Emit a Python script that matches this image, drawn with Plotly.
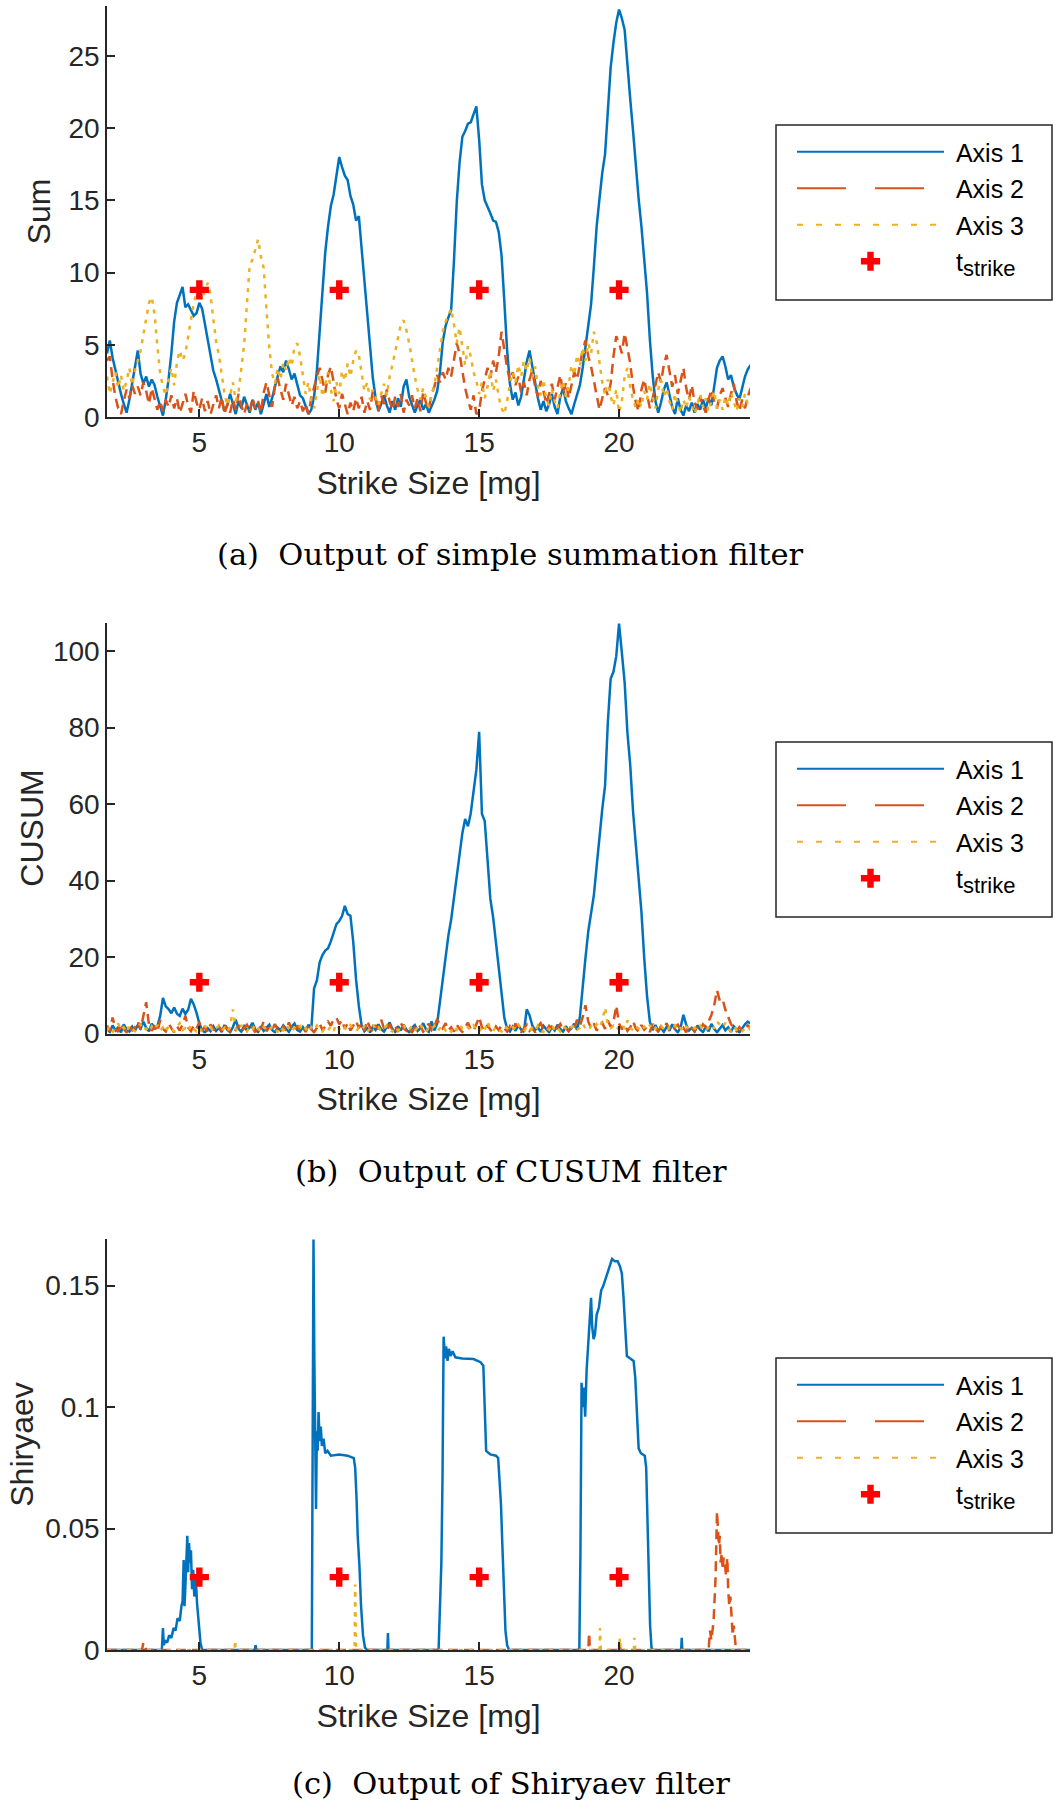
import plotly.graph_objects as go
from plotly.subplots import make_subplots

# sampled series start at 1.7 mg with 0.1 mg spacing
X_START = 1.7
X_STEP = 0.1

#---------------------------------------------------
# (a) simple summation filter
sum_axis1 = [
    4.4, 5.3, 4.1, 3.2, 2.4, 1.6, 0.9, 0.3, 1.2, 2.3,
    3.4, 4.6, 3.0, 2.3, 2.8, 2.1, 2.6, 2.2, 1.4, 0.7,
    0.1, 1.2, 2.6, 4.4, 6.6, 7.9, 8.4, 9.0, 7.6, 7.8,
    7.4, 7.0, 7.2, 7.9, 7.5, 6.4, 5.2, 4.1, 3.2, 2.6,
    1.9, 1.2, 0.4, 0.8, 1.6, 0.9, 0.2, 1.1, 0.6, 1.4,
    0.8, 0.3, 1.2, 0.5, 1.0, 0.2, 0.9, 1.6, 0.7, 1.3,
    2.1, 2.8, 3.5, 3.1, 3.9, 3.3, 2.6, 3.0, 2.2, 1.5,
    1.3, 0.7, 0.2, 0.5, 1.4, 3.2, 6.1, 8.8, 11.4, 13.2,
    14.6, 15.4, 16.9, 18.0, 17.3, 16.7, 16.4, 15.3, 14.7, 13.6,
    13.9, 11.6, 9.4, 6.9, 4.6, 2.7, 1.3, 0.4, 0.9, 1.5,
    0.8, 0.3, 1.1, 0.5, 1.3, 0.7, 2.1, 2.6, 1.4, 0.9,
    0.3, 0.8, 1.2, 0.5, 0.9, 0.3, 0.7, 1.2, 1.8, 3.1,
    5.2, 6.3, 6.9, 7.4, 10.8, 14.9, 17.6, 19.4, 19.8, 20.3,
    20.4, 20.9, 21.5, 19.2, 16.1, 15.0, 14.6, 14.1, 13.6, 13.5,
    12.8, 11.2, 8.0, 4.6, 2.3, 1.2, 1.7, 0.8, 1.4, 2.6,
    3.8, 4.6, 3.4, 2.2, 1.3, 0.5, 1.1, 0.4, 0.9, 1.6,
    0.7, 0.2, 1.4, 2.0, 1.1, 0.6, 0.2, 0.9, 1.5, 2.2,
    3.4, 5.0, 6.6, 7.8, 10.4, 13.2, 15.1, 16.9, 18.2, 21.3,
    24.2, 25.9, 27.3, 28.2, 27.6, 26.8, 24.1, 22.0, 19.8, 17.2,
    15.1, 13.2, 11.0, 8.6, 5.4, 2.9, 1.1, 0.3, 1.0, 1.9,
    2.4, 1.6, 0.7, 0.2, 1.3, 0.5, 0.1, 0.8, 0.4, 1.0,
    0.3, 0.9, 0.5, 1.2, 0.6, 1.3, 0.8, 2.1, 3.4, 3.9,
    4.2, 3.5, 2.6, 2.9, 2.1, 1.6, 1.2, 2.0, 2.8, 3.3,
    3.6,
]
sum_axis2 = [
    3.9, 4.2, 2.6, 1.4, 0.6, 0.2, 1.1, 1.9, 1.3, 2.2,
    1.6, 2.1, 1.5, 2.4, 1.8, 0.9, 2.0, 1.2, 0.5, 1.1,
    0.4, 1.2, 0.7, 1.5, 0.6, 1.3, 0.3, 0.9, 1.6, 0.8,
    0.3, 1.8, 1.0, 0.5, 1.3, 0.4, 1.1, 0.2, 0.8, 1.5,
    0.6, 1.4, 0.2, 0.9, 0.3, 1.2, 0.5, 1.6, 0.8, 0.2,
    0.9, 0.4, 1.3, 0.6, 1.1, 0.3, 1.7, 2.4, 1.5, 0.7,
    2.1, 2.7, 1.9, 1.2, 2.3, 1.6, 0.8, 1.4, 0.6, 1.1,
    0.4, 0.9, 0.2, 1.3, 2.1, 2.8, 3.4, 2.6, 1.7, 2.9,
    3.5, 2.4, 1.2, 0.6, 1.6, 0.9, 0.2, 1.0, 0.4, 1.3,
    0.6, 1.4, 0.3, 1.1, 0.5, 1.8, 1.2, 0.4, 1.5, 0.9,
    1.9, 1.1, 0.5, 1.4, 0.7, 1.6, 0.3, 1.2, 0.8, 1.5,
    0.6, 1.3, 0.4, 1.7, 1.0, 0.5, 1.6, 2.1, 2.9, 2.4,
    3.1, 2.6, 3.4, 2.8, 4.1, 5.1, 4.4, 3.2, 2.0, 1.2,
    0.5, 1.5, 0.2, 0.4, 1.8, 2.6, 3.4, 2.7, 3.9, 3.1,
    4.2, 5.9, 4.6, 3.4, 2.5, 3.1, 2.2, 2.8, 1.7, 2.4,
    1.5, 2.6, 3.2, 2.1, 1.4, 2.5, 1.8, 0.9, 1.6, 2.3,
    1.2, 2.0, 2.9, 1.6, 2.4, 1.3, 2.2, 3.1, 2.6, 3.7,
    4.6, 5.3, 4.2, 3.5, 2.4, 1.6, 0.5, 1.3, 2.0, 1.5,
    2.3, 4.2, 5.6, 5.1, 4.4, 5.8, 4.6, 3.7, 2.1, 1.0,
    0.4, 1.9, 2.6, 1.5, 0.6, 1.3, 2.2, 3.1, 2.4, 3.6,
    4.3, 3.2, 2.1, 2.9, 1.6, 2.5, 3.4, 2.0, 1.2, 2.2,
    1.0, 0.5, 1.4, 0.8, 0.3, 1.2, 1.9, 1.1, 0.6, 1.5,
    2.0, 1.3, 0.7, 1.6, 2.3, 1.1, 0.4, 1.2, 0.6, 1.4,
    2.0,
]
sum_axis3 = [
    2.8, 1.6, 2.4, 3.1, 2.0, 2.9, 1.8, 2.5, 3.4, 2.2,
    3.2, 3.9, 4.6, 5.7, 6.8, 7.9, 8.3, 7.1, 4.9, 3.0,
    2.1, 1.5, 2.6, 3.4, 2.2, 3.8, 4.6, 3.9, 4.4, 5.6,
    6.8, 7.9, 8.6, 8.9, 8.1, 8.7, 9.3, 8.4, 6.9, 5.2,
    4.3, 3.1, 1.6, 0.8, 1.5, 2.4, 1.1, 1.7, 3.2, 5.0,
    7.8, 10.5, 10.9, 11.6, 12.3, 11.1, 10.3, 7.4, 4.8, 3.0,
    2.3, 3.4, 2.6, 3.8, 3.2, 4.1, 3.5, 4.9, 5.1, 4.2,
    2.8, 1.6, 2.4, 1.1, 0.6, 1.8, 2.9, 1.4, 2.2, 3.1,
    1.9, 1.1, 2.4, 1.6, 3.2, 2.5, 3.7, 2.8, 3.9, 4.6,
    4.3, 3.1, 1.8, 2.4, 1.2, 1.9, 1.4, 0.8, 1.6, 2.3,
    1.5, 2.8, 3.6, 4.5, 5.5, 6.4, 6.7, 6.0, 5.1, 3.9,
    2.8, 1.9, 1.2, 2.0, 1.4, 0.7, 1.5, 2.2, 3.4, 4.8,
    5.9, 6.6, 7.1, 7.5, 6.4, 5.1, 6.2, 4.8, 3.6, 4.9,
    4.2, 3.1, 2.5, 1.6, 2.4, 1.3, 2.1, 3.2, 1.8, 2.6,
    1.4, 0.6, 0.2, 1.1, 2.3, 3.1, 2.4, 3.6, 2.8, 3.9,
    3.2, 4.1, 2.7, 3.5, 2.1, 1.5, 2.6, 1.2, 0.8, 1.9,
    1.1, 0.6, 1.7, 2.5, 1.4, 2.2, 3.6, 2.9, 4.3, 3.5,
    4.8, 3.9, 5.1, 4.4, 5.9, 5.2, 3.6, 2.4, 1.5, 2.6,
    1.4, 0.8, 1.9, 0.3, 1.1, 2.8, 3.4, 2.1, 1.2, 0.6,
    1.3, 0.7, 1.8, 1.2, 2.3, 1.5, 0.6, 1.9, 2.6, 1.4,
    2.0, 1.1, 0.5, 1.6, 0.9, 0.3, 1.2, 0.6, 1.4, 0.8,
    0.2, 0.9, 1.6, 0.7, 1.3, 0.4, 1.1, 1.8, 0.6, 1.2,
    0.5, 1.4, 0.8, 1.7, 1.1, 0.4, 1.3, 0.7, 1.6, 0.9,
    1.2,
]

#---------------------------------------------------
# (b) CUSUM filter
cusum_axis1 = [
    1.2, 0.4, 2.1, 0.8, 1.6, 0.3, 2.4, 1.1, 0.5, 1.8,
    0.7, 2.2, 1.3, 3.1, 1.5, 0.6, 2.6, 1.4, 1.9, 4.6,
    9.3, 7.1, 6.4, 5.3, 6.8, 5.2, 4.6, 6.5, 5.1, 6.2,
    9.1, 7.6, 5.4, 2.6, 0.8, 0.3, 1.4, 0.6, 1.9, 0.7,
    1.5, 0.4, 2.2, 1.0, 0.3, 1.7, 3.6, 1.2, 0.5, 1.9,
    0.8, 1.6, 2.8, 1.1, 0.4, 1.9, 0.7, 1.4, 2.3, 0.9,
    0.3, 1.5, 0.8, 2.1, 1.2, 0.4, 1.8, 2.6, 0.9, 0.5,
    1.7, 0.6, 2.3, 1.0, 11.8, 13.9, 18.6, 20.5, 21.7, 22.3,
    24.1, 26.3, 28.6, 29.4, 30.7, 33.4, 31.2, 30.8, 24.0, 14.2,
    7.2, 2.1, 0.6, 1.4, 0.3, 1.8, 0.9, 2.4, 1.1, 0.5,
    1.6, 2.9, 1.2, 0.4, 1.9, 0.8, 2.3, 1.0, 0.3, 1.5,
    2.2, 0.7, 1.4, 2.7, 1.1, 0.4, 3.2, 0.8, 2.6, 8.4,
    14.2, 21.3, 25.6, 29.8, 35.4, 40.3, 46.8, 52.4, 56.1, 54.2,
    57.6, 63.1, 69.0, 78.9, 57.4, 55.6, 44.0, 35.2, 30.4, 24.1,
    18.2, 10.9, 4.1, 1.2, 0.5, 1.8, 0.7, 2.2, 1.0, 0.4,
    6.3, 4.8, 2.1, 0.9, 1.6, 0.4, 2.0, 1.1, 0.3, 1.7,
    0.8, 2.3, 1.2, 0.5, 1.9, 0.7, 1.4, 2.6, 1.0, 4.3,
    13.2, 19.8, 26.7, 31.9, 36.2, 43.8, 51.9, 58.7, 64.8, 81.5,
    92.8, 94.6, 98.7, 107.2, 99.6, 91.8, 78.6, 70.2, 58.1, 49.7,
    40.6, 31.8, 19.7, 9.8, 3.1, 0.9, 2.2, 0.6, 1.5, 0.4,
    1.8, 0.7, 2.4, 1.1, 0.3, 1.6, 4.9, 2.3, 0.8, 1.5,
    0.5, 2.1, 1.0, 0.4, 1.7, 0.6, 2.5, 1.2, 0.3, 1.4,
    2.2, 0.8, 1.6, 0.4, 1.9, 1.0, 0.3, 1.3, 2.4, 3.1,
    2.6,
]
cusum_axis2 = [
    2.1, 0.6, 4.2, 1.3, 0.4, 2.7, 1.1, 0.3, 1.9, 0.8,
    1.5, 3.2, 1.0, 4.6, 8.2, 2.3, 0.7, 1.8, 0.4, 3.5,
    1.2, 0.5, 2.6, 1.4, 0.3, 1.9, 0.8, 2.3, 4.6, 1.5,
    0.6, 2.1, 1.2, 3.0, 0.8, 1.7, 0.4, 2.4, 1.1, 0.5,
    1.8, 0.7, 2.6, 1.3, 0.4, 1.6, 0.9, 2.2, 0.5, 1.4,
    2.3, 0.8, 1.5, 0.3, 2.0, 1.1, 3.2, 0.6, 1.7, 0.9,
    2.5, 1.0, 0.4, 1.8, 0.7, 2.9, 1.3, 0.5, 2.1, 0.8,
    1.6, 0.4, 2.2, 1.1, 0.3, 1.5, 2.6, 0.9, 1.8, 3.1,
    2.0, 3.8, 4.1, 2.4, 3.5, 1.2, 2.7, 0.8, 1.9, 3.3,
    1.4, 2.6, 0.7, 3.4, 1.5, 0.5, 2.2, 1.1, 3.6, 1.3,
    0.6, 2.4, 1.0, 1.9, 0.4, 2.8, 1.3, 0.7, 1.6, 0.3,
    1.5, 0.8, 2.0, 0.5, 1.4, 2.6, 0.9, 1.8, 3.8, 2.2,
    1.3, 2.7, 0.8, 1.6, 0.5, 2.3, 1.2, 0.4, 1.7, 2.8,
    1.1, 0.6, 2.4, 4.3, 1.6, 0.7, 2.2, 1.0, 0.4, 1.8,
    0.9, 2.1, 1.3, 0.5, 1.9, 0.8, 2.6, 1.2, 0.4, 1.5,
    2.3, 0.7, 1.4, 0.3, 1.8, 2.7, 1.0, 0.5, 2.0, 1.2,
    0.4, 1.6, 2.5, 0.9, 1.3, 0.6, 2.1, 1.4, 3.6, 2.0,
    4.2, 7.4, 3.1, 1.5, 2.6, 0.8, 1.9, 2.8, 1.2, 3.4,
    1.8, 2.9, 7.3, 2.6, 1.1, 2.4, 0.7, 1.6, 3.2, 1.3,
    0.5, 2.2, 1.0, 1.8, 0.4, 2.5, 1.1, 0.6, 1.9, 1.3,
    2.7, 1.0, 0.4, 1.7, 2.3, 0.8, 1.5, 0.3, 2.0, 1.2,
    0.6, 1.9, 1.1, 2.4, 1.6, 3.2, 4.8, 7.4, 11.3, 8.6,
    9.0, 6.2, 4.1, 2.5, 1.2, 0.6, 1.7, 0.8, 1.4, 2.1,
    1.5,
]
cusum_axis3 = [
    0.8, 1.9, 0.5, 1.4, 2.6, 0.9, 1.6, 0.3, 2.1, 1.2,
    0.6, 1.7, 2.4, 0.8, 1.3, 0.4, 1.9, 1.0, 2.2, 0.7,
    1.5, 0.4, 2.0, 1.1, 0.6, 1.8, 2.7, 0.9, 1.4, 0.5,
    2.3, 1.2, 0.6, 1.6, 0.3, 2.0, 1.0, 1.7, 0.5, 1.3,
    2.1, 0.8, 1.5, 0.4, 1.8, 6.3, 1.2, 0.6, 2.2, 1.0,
    0.5, 1.6, 0.9, 2.4, 1.3, 0.4, 1.7, 1.0, 0.6, 2.0,
    1.1, 0.5, 1.8, 0.9, 2.3, 1.2, 0.4, 1.5, 0.8, 1.9,
    0.6, 1.4, 0.3, 1.7, 0.9, 2.1, 1.0, 0.5, 1.6, 0.8,
    1.9, 0.7, 2.4, 1.2, 0.5, 1.6, 0.9, 2.2, 1.3, 0.6,
    1.5, 0.8, 2.0, 0.4, 1.3, 2.5, 0.9, 1.6, 0.5, 1.2,
    2.1, 1.0, 0.5, 1.7, 0.8, 1.4, 2.3, 0.6, 1.1, 1.9,
    0.7, 1.5, 2.6, 0.9, 0.4, 1.6, 1.1, 2.0, 0.6, 1.4,
    2.2, 0.8, 1.5, 0.5, 1.9, 1.0, 2.4, 1.3, 0.7, 1.6,
    0.9, 2.1, 1.2, 0.4, 1.7, 0.8, 3.1, 1.3, 0.6, 1.8,
    1.1, 0.5, 2.0, 1.4, 0.7, 1.6, 0.9, 2.3, 1.2, 0.5,
    1.8, 0.9, 1.4, 0.6, 2.1, 1.1, 0.4, 1.7, 1.0, 2.4,
    0.8, 1.5, 0.5, 1.9, 1.2, 0.7, 1.6, 2.2, 1.0, 1.4,
    2.6, 1.3, 0.8, 1.9, 1.1, 2.4, 1.5, 3.2, 6.8, 2.1,
    1.4, 2.0, 0.9, 1.7, 2.6, 1.2, 3.4, 1.5, 0.8, 1.9,
    1.3, 0.6, 1.8, 1.0, 2.2, 0.7, 1.5, 0.9, 1.9, 1.1,
    0.5, 1.6, 1.0, 2.1, 0.8, 1.4, 0.6, 1.8, 1.2, 0.7,
    1.5, 0.9, 2.0, 1.1, 0.6, 1.7, 2.4, 1.3, 3.1, 2.2,
    1.6, 2.8, 1.2, 0.7, 1.9, 1.0, 1.5, 0.6, 1.3, 2.0,
    0.9,
]

#---------------------------------------------------
# (c) Shiryaev filter, read as (strike size, value) points
shir_x_axis1 = [
    1.7, 3.66, 3.7, 3.73, 3.78, 3.85, 3.92, 4.0, 4.08, 4.15, 4.22, 4.3, 4.36, 4.4,
    4.44, 4.47, 4.5, 4.54, 4.57, 4.6, 4.63, 4.67, 4.7, 4.74, 4.78, 4.82, 4.87, 4.92,
    4.98, 5.04, 5.1, 6.98, 7.01, 7.04,
    9.02, 9.05, 9.08, 9.11, 9.14, 9.17, 9.2, 9.23, 9.26, 9.3, 9.34, 9.38, 9.44, 9.5,
    9.58, 9.7, 10.0, 10.3, 10.52, 10.57, 10.62, 10.66, 10.72, 10.78, 10.85, 10.92, 11.0,
    11.72, 11.74, 11.76,
    13.55, 13.6, 13.65, 13.69, 13.73, 13.78, 13.82, 13.87, 13.92, 13.98, 14.05, 14.15,
    14.4, 14.8, 15.05, 15.15, 15.2, 15.25, 15.4, 15.6, 15.68, 15.73, 15.78, 15.83,
    15.88, 15.94, 16.0, 16.07,
    18.58, 18.62, 18.66, 18.7, 18.74, 18.79, 18.84, 18.9, 18.95, 19.0, 19.04, 19.09,
    19.14, 19.2, 19.28, 19.36, 19.44, 19.52, 19.6, 19.68, 19.75, 19.85, 19.95, 20.03,
    20.1, 20.16, 20.22, 20.28, 20.4, 20.52, 20.58, 20.64, 20.7, 20.78, 20.92, 20.97,
    21.02, 21.07, 21.11, 21.16, 21.2,
    22.22, 22.24, 22.26, 24.7,
]
shir_y_axis1 = [
    0, 0, 0.009, 0.002, 0.004, 0.003, 0.006, 0.005, 0.009, 0.008, 0.013, 0.012, 0.018, 0.02,
    0.037, 0.018, 0.026, 0.043, 0.047, 0.032, 0.044, 0.036, 0.041, 0.025, 0.033, 0.022, 0.03, 0.019,
    0.012, 0.003, 0, 0, 0.002, 0,
    0, 0.06, 0.169, 0.12, 0.075, 0.058, 0.09, 0.082, 0.098, 0.086, 0.092, 0.084, 0.087, 0.081,
    0.082, 0.08, 0.0805, 0.08, 0.079, 0.075, 0.062, 0.047, 0.035, 0.018, 0.006, 0.001, 0,
    0, 0.007, 0,
    0, 0.019, 0.036, 0.07, 0.129, 0.12, 0.125, 0.119, 0.124, 0.121, 0.123, 0.1205,
    0.12, 0.1198, 0.1185, 0.117, 0.1, 0.082, 0.0805, 0.08, 0.079, 0.07, 0.06, 0.043,
    0.025, 0.008, 0.002, 0,
    0, 0.04, 0.11, 0.1, 0.108, 0.096, 0.115, 0.128, 0.135, 0.145, 0.133, 0.128,
    0.13, 0.138, 0.141, 0.148, 0.15, 0.153, 0.155, 0.159, 0.161, 0.16, 0.16, 0.158,
    0.155, 0.145, 0.13, 0.121, 0.12, 0.119, 0.112, 0.095, 0.083, 0.081, 0.08, 0.075,
    0.055, 0.03, 0.01, 0.001, 0,
    0, 0.005, 0, 0,
]
shir_x_axis2 = [
    1.7, 2.95, 3.0, 3.05, 3.1, 18.9, 18.93, 18.96, 20.0, 20.02, 20.05,
    23.2, 23.25, 23.3, 23.38, 23.45, 23.5, 23.53, 23.57, 23.6, 23.63, 23.67, 23.7,
    23.74, 23.78, 23.82, 23.87, 23.9, 23.94, 23.98, 24.02, 24.06, 24.1, 24.14, 24.18, 24.7,
]
shir_y_axis2 = [
    0, 0, 0.003, 0.002, 0, 0, 0.007, 0, 0, 0.002, 0,
    0, 0.008, 0.004, 0.012, 0.03, 0.057, 0.048, 0.043, 0.047, 0.036, 0.04, 0.033,
    0.038, 0.036, 0.031, 0.038, 0.025, 0.018, 0.022, 0.01, 0.006, 0.01, 0.003, 0, 0,
]
shir_x_axis3 = [1.7, 6.26, 6.28, 6.3, 10.55, 10.57, 10.6, 19.3, 19.32, 19.35,
                20.0, 20.03, 20.06, 20.53, 20.55, 20.58, 24.7]
shir_y_axis3 = [0, 0, 0.004, 0, 0, 0.027, 0, 0, 0.009, 0,
                0, 0.005, 0, 0, 0.005, 0, 0]

#---------------------------------------------------
# strike markers and axes
strike_x = [5, 10, 15, 20]
strike_y_sum = [8.8, 8.8, 8.8, 8.8]
strike_y_cusum = [13.4, 13.4, 13.4, 13.4]
strike_y_shir = [0.03, 0.03, 0.03, 0.03]

x_ticks = [5, 10, 15, 20]
sum_ticks = [0, 5, 10, 15, 20, 25]
cusum_ticks = [0, 20, 40, 60, 80, 100]
shir_ticks = [0, 0.05, 0.1, 0.15]

series_names = ["Axis 1", "Axis 2", "Axis 3"]
strike_name = "t<sub><span style='font-size:22px'>strike</span></sub>"
captions = [
    "(a)  Output of simple summation filter",
    "(b)  Output of CUSUM filter",
    "(c)  Output of Shiryaev filter",
]

#---------------------------------------------------
BLUE = "#0072BD"
ORANGE = "#D95319"
YELLOW = "#EDB120"
INK = "#262626"
FONT = "Liberation Sans"

W, H = 1059, 1812
M_L, M_R, M_T, M_B = 107, 309, 6, 162


def px_x(px):
    return (px - M_L) / (W - M_L - M_R)


def px_y(px):
    return (H - M_B - px) / (H - M_T - M_B)


fig = make_subplots(rows=3, cols=1, vertical_spacing=0.125)

panels = [
    (1, "legend", [sum_axis1, sum_axis2, sum_axis3], None, strike_y_sum),
    (2, "legend2", [cusum_axis1, cusum_axis2, cusum_axis3], None, strike_y_cusum),
    (3, "legend3", None, [(shir_x_axis1, shir_y_axis1), (shir_x_axis2, shir_y_axis2),
                          (shir_x_axis3, shir_y_axis3)], strike_y_shir),
]
colors = [BLUE, ORANGE, YELLOW]
data_dash = ["solid", "10px,6px", "4px,6px"]
legend_dash = ["solid", "49px,29px", "6px,13px"]
# nbsp pad widens the gap between legend sample and label
pad = "\u00a0"

for row, leg, uniform, pairs, strike_y in panels:
    for i in range(3):
        line = dict(color=colors[i], width=2.5, dash=data_dash[i])
        if uniform is not None:
            tr = go.Scatter(x0=X_START, dx=X_STEP, y=uniform[i], mode="lines",
                            line=line, showlegend=False, hoverinfo="skip")
        else:
            tr = go.Scatter(x=pairs[i][0], y=pairs[i][1], mode="lines",
                            line=line, showlegend=False, hoverinfo="skip")
        fig.add_trace(tr, row=row, col=1)
    fig.add_trace(go.Scatter(x=strike_x, y=strike_y, mode="markers",
                             marker=dict(symbol="cross", size=16, color="#FF0000",
                                         line=dict(width=0)),
                             showlegend=False, hoverinfo="skip"), row=row, col=1)
    # legend entries (same styles, drawn only in the legend)
    for i in range(3):
        fig.add_trace(go.Scatter(x=[None], y=[None], mode="lines", name=pad + series_names[i],
                                 line=dict(color=colors[i], width=2, dash=legend_dash[i]),
                                 legend=leg, legendgroup=f"{leg}{i}"), row=row, col=1)
    fig.add_trace(go.Scatter(x=[None], y=[None], mode="markers", name=pad + strike_name,
                             marker=dict(symbol="cross", size=16, color="#FF0000",
                                         line=dict(width=0)),
                             legend=leg, legendgroup=f"{leg}m"), row=row, col=1)

axis_common = dict(
    showline=True, linecolor=INK, linewidth=1.5,
    ticks="inside", ticklen=8, tickwidth=1.5, tickcolor=INK,
    showgrid=False, zeroline=False, automargin=False,
    tickfont=dict(family=FONT, size=28, color=INK),
    title_font=dict(family=FONT, size=32, color=INK),
)
for row in (1, 2, 3):
    fig.update_xaxes(axis_common, range=[1.7, 24.68], tickvals=x_ticks,
                     title_text="Strike Size [mg]", title_standoff=14, row=row, col=1)
fig.update_yaxes(axis_common, range=[0, 28.45], tickvals=sum_ticks,
                 title_text="Sum", title_standoff=8, row=1, col=1)
fig.update_yaxes(axis_common, range=[0, 107.5], tickvals=cusum_ticks,
                 title_text="CUSUM", title_standoff=0, row=2, col=1)
fig.update_yaxes(axis_common, range=[0, 0.1692], tickvals=shir_ticks,
                 ticktext=["0", "0.05", "0.1", "0.15"],
                 title_text="Shiryaev", title_standoff=2, row=3, col=1)

legend_common = dict(
    xanchor="left", yanchor="top", x=px_x(792),
    bgcolor="rgba(0,0,0,0)", borderwidth=0,
    font=dict(family=FONT, size=25, color="black"),
    itemwidth=147, tracegroupgap=1,
)
box_tops = [125, 742, 1358]
shapes = []
for k, top in enumerate(box_tops):
    name = ["legend", "legend2", "legend3"][k]
    fig.update_layout({name: dict(legend_common, y=px_y(top + 4))})
    shapes.append(dict(type="rect", xref="paper", yref="paper",
                       x0=px_x(776), x1=px_x(1052), y0=px_y(top + 175), y1=px_y(top),
                       line=dict(color=INK, width=1.5), fillcolor="white", layer="below"))

caption_y = [555, 1171, 1783]
annotations = []
for k, cy in enumerate(caption_y):
    annotations.append(dict(text=captions[k], xref="paper", yref="paper",
                            x=px_x(510.5), y=px_y(cy), showarrow=False,
                            xanchor="center", yanchor="middle",
                            font=dict(family="DejaVu Serif", size=30.5, color="black")))

fig.update_layout(
    width=W, height=H,
    margin=dict(l=M_L, r=M_R, t=M_T, b=M_B),
    paper_bgcolor="white", plot_bgcolor="white",
    shapes=shapes, annotations=annotations,
)

# page body margin would offset the figure by 8px
fig.write_html("out.html", config={"displayModeBar": False},
               post_script="document.body.style.margin='0';")
